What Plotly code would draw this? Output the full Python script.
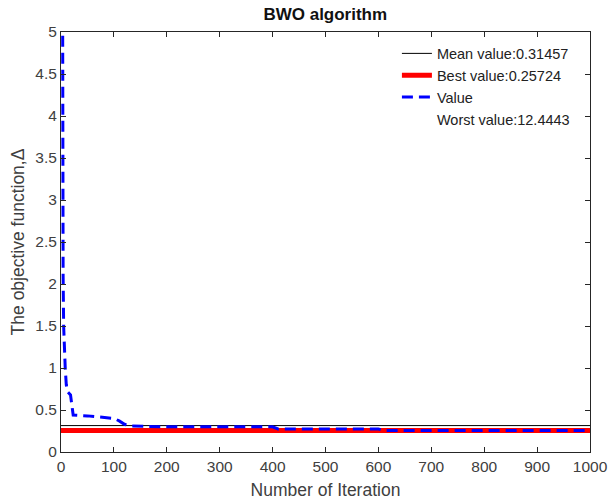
import plotly.graph_objects as go

# Convergence curve key points (iteration, objective value)
value_iter = [1, 2, 3, 4, 5, 6, 8, 10, 12, 18, 21, 23, 50, 80, 100, 110, 120, 130,
              200, 400, 410, 600, 610, 1000]
value_vals = [12.4443, 6.2, 3.5, 2.1, 1.5, 1.2, 1.0, 0.8, 0.72, 0.68, 0.55, 0.44,
              0.43, 0.41, 0.40, 0.37, 0.33, 0.31, 0.30, 0.30, 0.274, 0.274, 0.2572, 0.2572]

mean_value = 0.31457
best_value = 0.25724
worst_value = 12.4443
iter_range = [0, 1000]

x_ticks = [0, 100, 200, 300, 400, 500, 600, 700, 800, 900, 1000]
y_ticks = [0, 0.5, 1, 1.5, 2, 2.5, 3, 3.5, 4, 4.5, 5]
y_tick_text = ["0", "0.5", "1", "1.5", "2", "2.5", "3", "3.5", "4", "4.5", "5"]

font_fam = "Liberation Sans, Arial, sans-serif"
txt = "#404040"

fig = go.Figure()
fig.add_trace(go.Scatter(x=iter_range, y=[mean_value, mean_value], mode="lines",
                         line=dict(color="black", width=1),
                         name=f"Mean value:{mean_value}"))
fig.add_trace(go.Scatter(x=iter_range, y=[best_value, best_value], mode="lines",
                         line=dict(color="#ff0000", width=5),
                         name=f"Best value:{best_value}"))
fig.add_trace(go.Scatter(x=value_iter, y=value_vals, mode="lines",
                         line=dict(color="#0000ff", width=3, dash="11px,6px"),
                         name="Value"))
fig.add_trace(go.Scatter(x=[None], y=[None], mode="lines",
                         line=dict(color="rgba(0,0,0,0)", width=1),
                         name=f"Worst value:{worst_value}"))

fig.update_layout(
    width=608, height=504,
    margin=dict(l=61, r=18, t=32, b=52),
    paper_bgcolor="white", plot_bgcolor="white",
    font=dict(family=font_fam, size=14, color=txt),
    title=dict(text="<b>BWO algorithm</b>", x=0.535, xanchor="center",
               y=0.972, yanchor="middle",
               font=dict(family=font_fam, size=17, color="#111")),
    showlegend=True,
    legend=dict(x=0.635, xanchor="left", y=0.987, yanchor="top",
                bgcolor="rgba(255,255,255,0)", borderwidth=0,
                font=dict(family=font_fam, size=14.5, color="#222"),
                tracegroupgap=0, itemwidth=30),
    xaxis=dict(range=[0, 1000], tickvals=x_ticks, ticks="inside", ticklen=5,
               showline=True, mirror="ticks", linecolor="#262626", linewidth=1,
               tickcolor="#262626", showgrid=False, zeroline=False, automargin=False,
               tickfont=dict(size=15.5, color=txt),
               title=dict(text="Number of Iteration", standoff=10,
                          font=dict(size=17.5, color=txt))),
    yaxis=dict(range=[0, 5], tickvals=y_ticks, ticktext=y_tick_text,
               ticks="inside", ticklen=5,
               showline=True, mirror="ticks", linecolor="#262626", linewidth=1,
               tickcolor="#262626", showgrid=False, zeroline=False, automargin=False,
               tickfont=dict(size=15.5, color=txt),
               title=dict(text="The objective function,Δ", standoff=6,
                          font=dict(size=17.5, color=txt))),
)

fig.write_html("out.html")
